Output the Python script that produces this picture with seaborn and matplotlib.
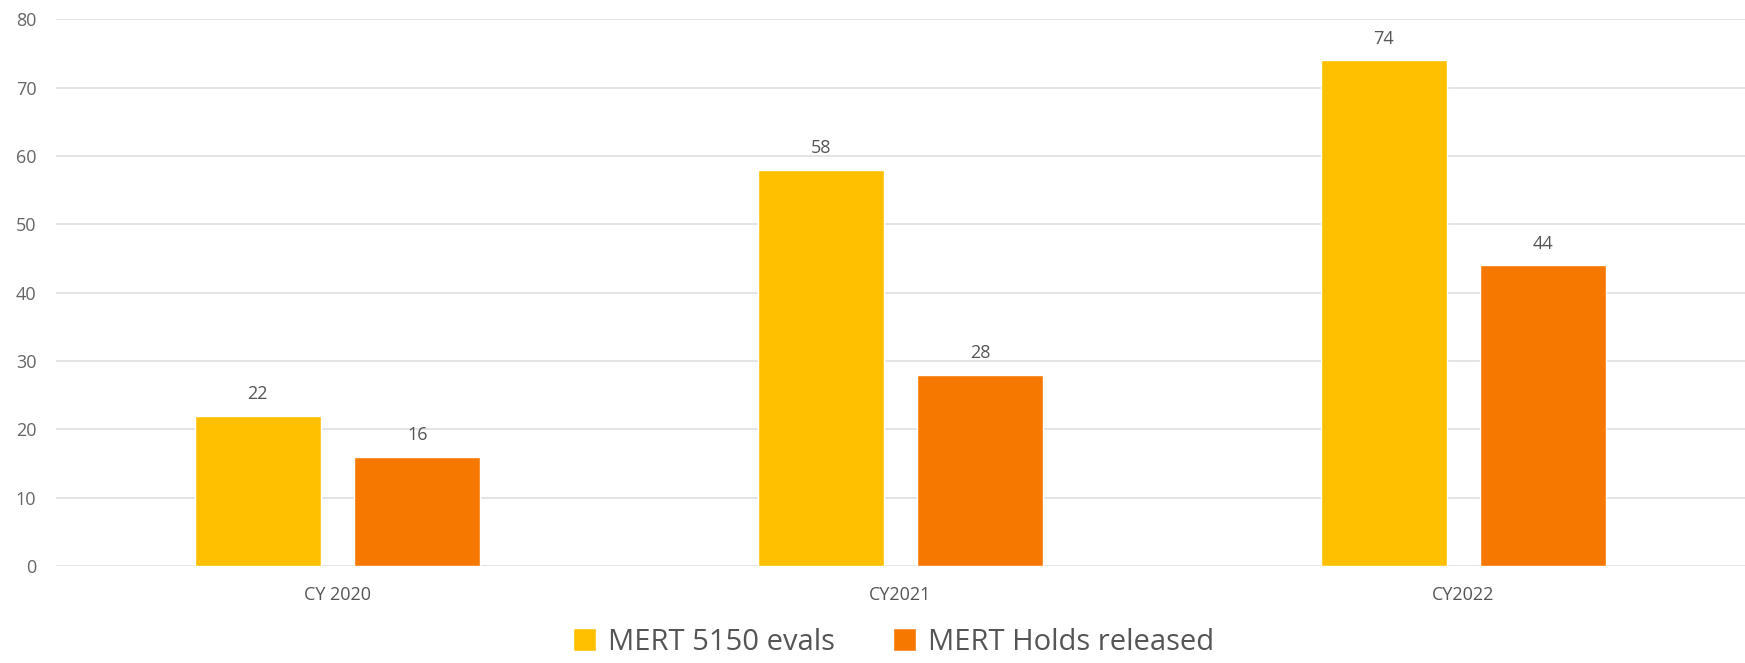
import pandas as pd
import seaborn as sns
import matplotlib.pyplot as plt

# Chart values
years = ['CY 2020', 'CY2021', 'CY2022']
evals_5150 = [22, 58, 74]
holds_released = [16, 28, 44]
series_names = ['MERT 5150 evals', 'MERT Holds released']
colors = ['#FFC000', '#F77800']

df = pd.DataFrame({
    'year': years * 2,
    'count': evals_5150 + holds_released,
    'series': [series_names[0]] * len(years) + [series_names[1]] * len(years),
})

sns.set_theme(style='white')
plt.rcParams['font.family'] = ['Open Sans', 'DejaVu Sans']

fig = plt.figure(figsize=(17.45, 6.63), dpi=100)
ax = fig.add_axes([0.032, 0.146, 0.968, 0.825])

sns.barplot(data=df, x='year', y='count', hue='series', palette=colors,
            width=0.567, gap=0.21, saturation=1, ax=ax, legend=True)

# Value labels above bars
for container in ax.containers:
    ax.bar_label(container, padding=9, fontsize=13, color='#555555')

ax.set_ylim(0, 80)
ax.set_yticks(range(0, 81, 10))
ax.yaxis.grid(True, color='#e2e2e2', linewidth=1.3)
ax.set_axisbelow(True)
ax.set_xlabel('')
ax.set_ylabel('')
sns.despine(ax=ax, left=True, bottom=True, top=True, right=True)
ax.tick_params(axis='y', labelsize=13, labelcolor='#666666', pad=14, length=0)
ax.tick_params(axis='x', labelsize=13, labelcolor='#555555', pad=14, length=0)

# Legend at bottom centre
handles, labels = ax.get_legend_handles_labels()
ax.get_legend().remove()
fig.legend(handles, labels, loc='lower center', bbox_to_anchor=(0.512, -0.03),
           ncol=2, frameon=False, fontsize=21, labelcolor='#555555',
           handlelength=0.8, handleheight=0.8, handletextpad=0.4,
           columnspacing=2.0)

plt.savefig('out.png', dpi=100)
